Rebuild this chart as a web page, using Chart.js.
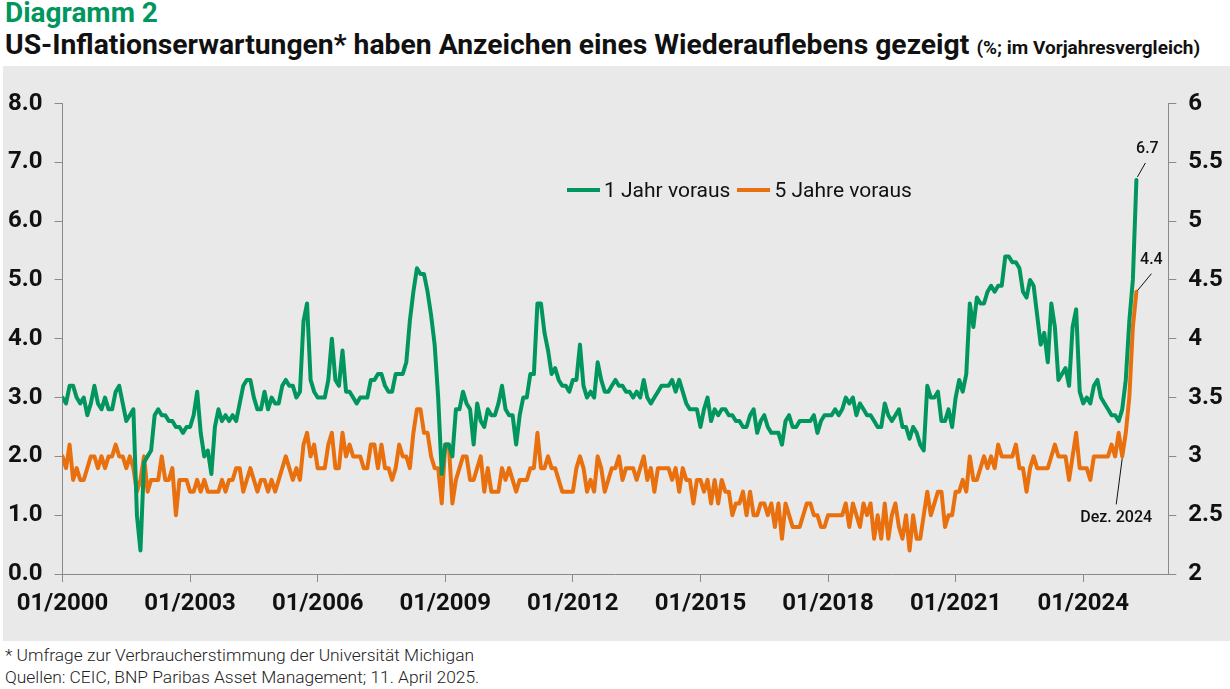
<!DOCTYPE html>
<html lang="de">
<head>
<meta charset="utf-8">
<title>Diagramm 2</title>
<script src="https://cdn.jsdelivr.net/npm/chart.js@4.4.1/dist/chart.umd.min.js"></script>
<style>
  html, body { margin: 0; padding: 0; background: #fff; }
  body { width: 1230px; height: 689px; position: relative; overflow: hidden; font-family: Roboto, "Liberation Sans", sans-serif; color: #111; }
  #kicker { position: absolute; left: 5px; top: -3px; font-size: 28px; font-weight: 700; color: #00965e; line-height: 32px; }
  #headline { position: absolute; left: 5px; top: 29px; font-size: 28.3px; font-weight: 700; line-height: 32px; white-space: nowrap; }
  #headline span { font-size: 19px; }
  #panel { position: absolute; left: 3px; top: 66px; width: 1227px; height: 575px; background: #e9e9e9; }
  #chartBox { position: absolute; left: 0; top: 66px; width: 1230px; height: 575px; }
  #legend { position: absolute; left: 567px; top: 177px; display: flex; align-items: center; font-size: 21px; line-height: 26px; }
  #legend .key { display: inline-block; width: 33px; height: 4px; margin-right: 4px; }
  #legend .lab { margin-right: 7px; }
  #notes { position: absolute; left: 5px; top: 644px; font-size: 17.4px; font-weight: 300; line-height: 22px; color: #222; }
</style>
</head>
<body>
<div id="kicker">Diagramm 2</div>
<div id="headline">US-Inflationserwartungen* haben Anzeichen eines Wiederauflebens gezeigt <span>(%; im Vorjahresvergleich)</span></div>
<div id="panel"></div>
<div id="chartBox"><canvas id="chart" width="1230" height="575"></canvas></div>
<div id="legend"></div>
<div id="notes">* Umfrage zur Verbraucherstimmung der Universität Michigan<br>Quellen: CEIC, BNP Paribas Asset Management; 11. April 2025.</div>
<script>
// monthly readings, first value = 01/2000, last = 04/2025
const oneYear = [
  3.0, 2.9, 3.2, 3.2, 3.0, 2.9, 3.0, 2.7, 2.9, 3.2, 2.9, 2.8,
  3.0, 2.8, 2.8, 3.1, 3.2, 2.9, 2.6, 2.7, 2.8, 1.0, 0.4, 1.9,
  2.0, 2.1, 2.7, 2.8, 2.7, 2.7, 2.6, 2.6, 2.5, 2.5, 2.4, 2.5,
  2.5, 2.7, 3.1, 2.4, 2.0, 2.1, 1.7, 2.5, 2.8, 2.6, 2.7, 2.6,
  2.7, 2.6, 2.9, 3.2, 3.3, 3.3, 3.0, 2.8, 2.8, 3.1, 2.8, 3.0,
  2.9, 2.9, 3.2, 3.3, 3.2, 3.2, 3.0, 3.1, 4.3, 4.6, 3.3, 3.1,
  3.0, 3.0, 3.0, 3.3, 4.0, 3.3, 3.2, 3.8, 3.1, 3.1, 3.0, 2.9,
  3.0, 3.0, 3.0, 3.3, 3.3, 3.4, 3.4, 3.2, 3.1, 3.1, 3.4, 3.4,
  3.4, 3.6, 4.3, 4.8, 5.2, 5.1, 5.1, 4.8, 4.4, 3.9, 3.0, 1.7,
  2.2, 2.2, 2.0, 2.8, 2.8, 3.1, 2.9, 2.8, 2.2, 2.9, 2.6, 2.5,
  2.8, 2.7, 2.7, 2.9, 3.2, 2.8, 2.7, 2.7, 2.2, 2.7, 3.0, 3.0,
  3.4, 3.4, 4.6, 4.6, 4.1, 3.8, 3.4, 3.5, 3.3, 3.2, 3.2, 3.1,
  3.3, 3.3, 3.9, 3.2, 3.0, 3.1, 3.0, 3.6, 3.3, 3.1, 3.1, 3.2,
  3.3, 3.2, 3.2, 3.1, 3.1, 3.0, 3.1, 3.0, 3.3, 3.0, 2.9, 3.0,
  3.1, 3.2, 3.2, 3.2, 3.3, 3.1, 3.3, 3.1, 2.9, 2.8, 2.8, 2.8,
  2.5, 2.8, 3.0, 2.6, 2.8, 2.7, 2.8, 2.8, 2.7, 2.7, 2.6, 2.6,
  2.5, 2.5, 2.7, 2.8, 2.4, 2.6, 2.7, 2.5, 2.4, 2.4, 2.4, 2.2,
  2.6, 2.7, 2.5, 2.5, 2.6, 2.6, 2.6, 2.6, 2.7, 2.4, 2.6, 2.7,
  2.7, 2.7, 2.8, 2.7, 2.8, 3.0, 2.9, 3.0, 2.7, 2.9, 2.8, 2.7,
  2.7, 2.6, 2.5, 2.5, 2.9, 2.7, 2.6, 2.7, 2.8, 2.5, 2.5, 2.3,
  2.5, 2.4, 2.2, 2.1, 3.2, 3.0, 3.0, 3.1, 2.6, 2.6, 2.8, 2.5,
  3.0, 3.3, 3.1, 3.4, 4.6, 4.2, 4.7, 4.6, 4.6, 4.8, 4.9, 4.8,
  4.9, 4.9, 5.4, 5.4, 5.3, 5.3, 5.2, 4.8, 4.7, 5.0, 4.9, 4.4,
  3.9, 4.1, 3.6, 4.6, 4.2, 3.3, 3.4, 3.5, 3.2, 4.2, 4.5, 3.1,
  2.9, 3.0, 2.9, 3.2, 3.3, 3.0, 2.9, 2.8, 2.7, 2.7, 2.6, 2.8,
  3.3, 4.3, 5.0, 6.7
];

// right-hand scale
const fiveYear = [
  3.0, 2.9, 3.1, 2.8, 2.9, 2.8, 2.8, 2.9, 3.0, 3.0, 2.9, 3.0,
  2.9, 3.0, 3.0, 3.1, 3.0, 3.0, 2.9, 3.0, 2.9, 2.7, 2.8, 3.0,
  2.7, 2.8, 2.8, 2.8, 3.0, 2.8, 2.8, 2.9, 2.5, 2.8, 2.8, 2.8,
  2.7, 2.7, 2.8, 2.7, 2.8, 2.7, 2.7, 2.7, 2.7, 2.8, 2.7, 2.8,
  2.8, 2.9, 2.9, 2.7, 2.8, 2.9, 2.8, 2.7, 2.8, 2.8, 2.7, 2.8,
  2.7, 2.8, 2.9, 3.0, 2.9, 2.8, 2.9, 2.8, 3.1, 3.2, 3.0, 3.1,
  2.9, 2.9, 2.9, 3.1, 3.2, 2.9, 2.9, 3.2, 3.0, 3.1, 3.0, 3.0,
  3.0, 2.9, 2.9, 3.1, 3.1, 2.9, 3.1, 2.9, 2.9, 2.8, 2.9, 3.1,
  3.0, 3.0, 2.9, 3.2, 3.4, 3.4, 3.2, 3.2, 3.0, 2.9, 2.9, 2.6,
  3.1, 3.1, 2.6, 2.8, 2.9, 3.0, 3.0, 2.8, 2.8, 2.9, 3.0, 2.7,
  2.9, 2.7, 2.7, 2.7, 2.9, 2.8, 2.9, 2.8, 2.7, 2.8, 2.8, 2.8,
  2.9, 2.9, 3.2, 2.9, 2.9, 3.0, 2.9, 2.9, 2.8, 2.7, 2.7, 2.7,
  2.7, 2.9, 3.0, 2.9, 2.7, 2.8, 2.7, 3.0, 2.9, 2.7, 2.8, 2.9,
  2.9, 3.0, 2.8, 2.9, 2.9, 2.9, 2.8, 2.9, 3.0, 2.8, 2.9, 2.7,
  2.9, 2.9, 2.9, 2.9, 2.8, 2.9, 2.7, 2.9, 2.8, 2.8, 2.6, 2.8,
  2.8, 2.7, 2.8, 2.6, 2.8, 2.6, 2.8, 2.7, 2.7, 2.5, 2.6, 2.6,
  2.7, 2.5, 2.7, 2.5, 2.5, 2.6, 2.6, 2.5, 2.6, 2.4, 2.6, 2.3,
  2.6, 2.5, 2.4, 2.4, 2.4, 2.5, 2.6, 2.6, 2.5, 2.5, 2.4, 2.4,
  2.5, 2.5, 2.5, 2.5, 2.5, 2.6, 2.4, 2.6, 2.5, 2.4, 2.6, 2.5,
  2.6, 2.3, 2.5, 2.3, 2.6, 2.3, 2.5, 2.6, 2.4, 2.3, 2.5, 2.2,
  2.5, 2.3, 2.3, 2.5, 2.7, 2.5, 2.6, 2.7, 2.7, 2.4, 2.5, 2.5,
  2.7, 2.7, 2.8, 2.7, 3.0, 2.8, 2.8, 2.9, 3.0, 2.9, 3.0, 2.9,
  3.1, 3.0, 3.0, 3.0, 3.0, 3.1, 2.9, 2.9, 2.7, 2.9, 3.0, 2.9,
  2.9, 2.9, 2.9, 3.0, 3.1, 3.0, 3.0, 3.0, 2.8, 3.0, 3.2, 2.9,
  2.9, 2.9, 2.8, 3.0, 3.0, 3.0, 3.0, 3.0, 3.1, 3.0, 3.2, 3.0,
  3.2, 3.5, 4.1, 4.4
];

const seriesNames = ['1 Jahr voraus', '5 Jahre voraus'];
const seriesColors = ['#00965e', '#e8700e'];
const xTickLabels = ['01/2000', '01/2003', '01/2006', '01/2009', '01/2012', '01/2015', '01/2018', '01/2021', '01/2024'];
const decemberIndex = 299; // 12/2024 in months since 01/2000

const toPoints = arr => arr.map((v, i) => ({ x: i, y: v }));

const callouts = [
  { dataset: 0, index: oneYear.length - 1, text: oneYear[oneYear.length - 1].toFixed(1), from: [1, -3], to: [9, -17], label: [11, -31] },
  { dataset: 1, index: fiveYear.length - 1, text: fiveYear[fiveYear.length - 1].toFixed(1), from: [1, -1], to: [15, -18], label: [15, -32] },
  { dataset: 1, index: decemberIndex, text: 'Dez. 2024', from: [0, 2], to: [-6, 48], label: [-6, 62] }
];

const calloutPlugin = {
  id: 'callouts',
  afterDatasetsDraw(chart) {
    const ctx = chart.ctx;
    ctx.save();
    ctx.strokeStyle = '#111';
    ctx.lineWidth = 1;
    ctx.fillStyle = '#111';
    ctx.font = '500 16px Roboto';
    ctx.textAlign = 'center';
    ctx.textBaseline = 'middle';
    callouts.forEach(c => {
      const pt = chart.getDatasetMeta(c.dataset).data[c.index];
      ctx.beginPath();
      ctx.moveTo(pt.x + c.from[0], pt.y + c.from[1]);
      ctx.lineTo(pt.x + c.to[0], pt.y + c.to[1]);
      ctx.stroke();
      ctx.fillText(c.text, pt.x + c.label[0], pt.y + c.label[1]);
    });
    ctx.restore();
  }
};

const tickFont = { family: 'Roboto', size: 24, weight: 'bold' };
const axisGrid = { drawOnChartArea: false, tickLength: 8, color: '#8a8a8a' };
const axisBorder = { display: true, color: '#8a8a8a', width: 1 };

const config = {
  type: 'line',
  data: {
    datasets: [
      {
        label: seriesNames[0],
        data: toPoints(oneYear),
        yAxisID: 'y',
        borderColor: seriesColors[0],
        backgroundColor: seriesColors[0],
        borderWidth: 4,
        pointRadius: 0,
        tension: 0,
        borderJoinStyle: 'round',
        borderCapStyle: 'round',
      },
      {
        label: seriesNames[1],
        data: toPoints(fiveYear),
        yAxisID: 'y2',
        borderColor: seriesColors[1],
        backgroundColor: seriesColors[1],
        borderWidth: 4,
        pointRadius: 0,
        tension: 0,
        borderJoinStyle: 'round',
        borderCapStyle: 'round',
      },
    ],
  },
  options: {
    responsive: false,
    animation: false,
    layout: { padding: { top: 37.5, left: 0, right: 0, bottom: 0 } },
    plugins: {
      legend: { display: false },
      tooltip: { enabled: false },
    },
    scales: {
      x: {
        type: 'linear',
        min: 0,
        max: 312,
        grid: axisGrid,
        border: axisBorder,
        ticks: {
          stepSize: 36,
          includeBounds: false,
          autoSkip: false,
          maxRotation: 0,
          padding: 8,
          color: '#111',
          font: tickFont,
          callback: v => xTickLabels[v / 36],
        },
        afterFit: s => { s.height = 67; },
      },
      y: {
        position: 'left',
        min: 0,
        max: 8,
        grid: axisGrid,
        border: axisBorder,
        ticks: {
          stepSize: 1,
          padding: 12,
          color: '#111',
          font: tickFont,
          callback: v => v.toFixed(1),
        },
        afterFit: s => { s.width = 62.5; },
      },
      y2: {
        position: 'right',
        min: 2,
        max: 6,
        grid: axisGrid,
        border: axisBorder,
        ticks: {
          stepSize: 0.5,
          padding: 12,
          color: '#111',
          font: tickFont,
          callback: v => String(v),
        },
        afterFit: s => { s.width = 61.7; },
      },
    },
  },
  plugins: [calloutPlugin],
};

const legendBox = document.getElementById('legend');
seriesNames.forEach((name, i) => {
  const key = document.createElement('span');
  key.className = 'key';
  key.style.background = seriesColors[i];
  const lab = document.createElement('span');
  lab.className = 'lab';
  lab.textContent = name;
  legendBox.appendChild(key);
  legendBox.appendChild(lab);
});

const ctx = document.getElementById('chart');
const inflationChart = new Chart(ctx, config);
</script>
</body>
</html>
